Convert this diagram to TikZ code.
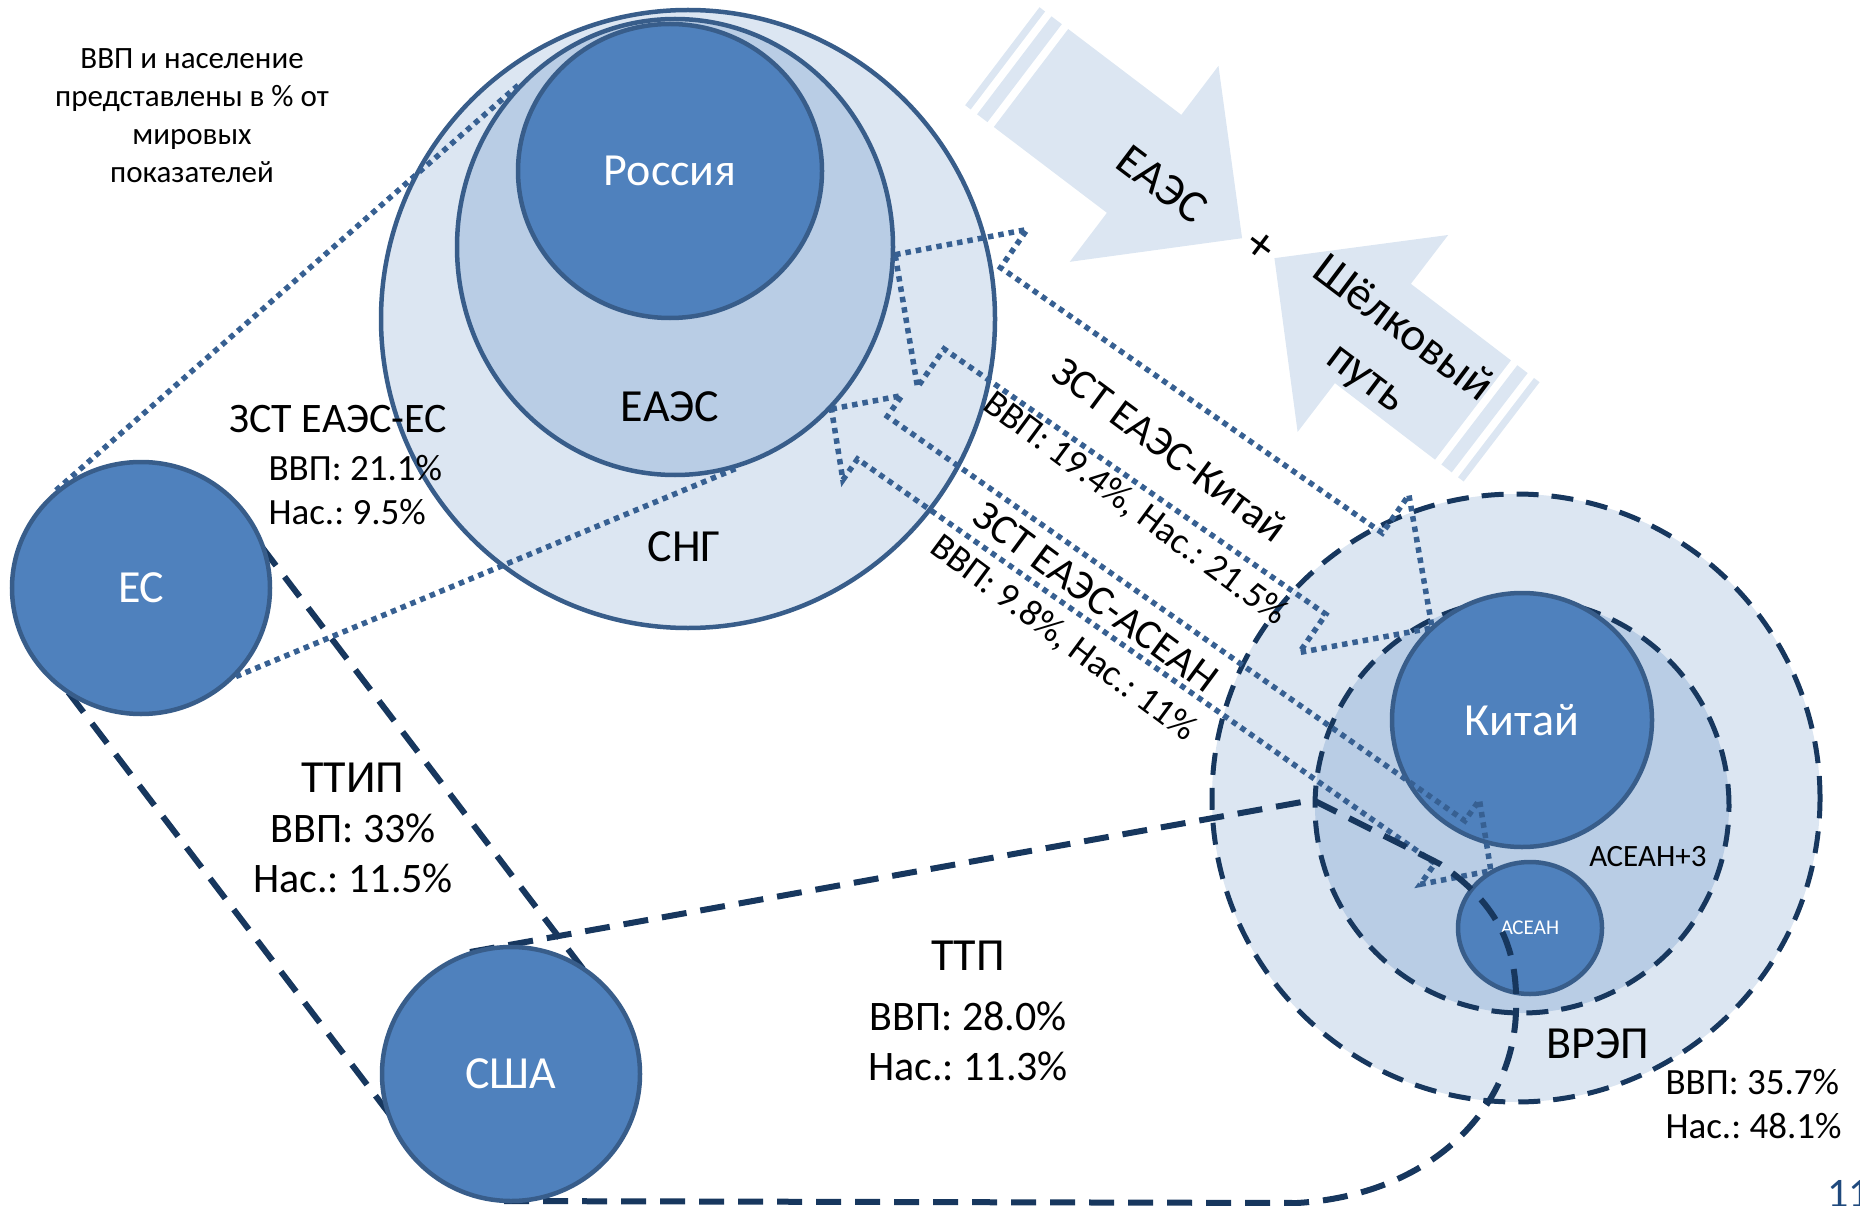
\documentclass[tikz,border=0pt]{standalone}
\usepackage{fontspec}
\setmainfont{Carlito}
\frenchspacing
\usetikzlibrary{shapes.geometric, calc}

\definecolor{darkblue}{HTML}{4F81BD}
\definecolor{edgeblue}{HTML}{385D8A}
\definecolor{midblue}{HTML}{B9CDE5}
\definecolor{paleblue}{HTML}{DCE6F2}
\definecolor{navy}{HTML}{17375E}
\definecolor{dotblue}{HTML}{376092}
\definecolor{pageblue}{HTML}{1F497D}

\newcommand\fbig{\fontsize{46}{55}\selectfont}
\newcommand\fmid{\fontsize{42}{50}\selectfont}
\newcommand\fzst{\fontsize{42}{50}\selectfont}
\newcommand\fstat{\fontsize{37}{44}\selectfont}
\newcommand\fnote{\fontsize{31}{38}\selectfont}
\newcommand\fsmall{\fontsize{21}{25}\selectfont}

\tikzset{
country/.style={ellipse, draw=edgeblue, fill=darkblue, line width=4.5pt, text=white, inner sep=0pt, font=\fbig}, % filled member states
union/.style={ellipse, draw=edgeblue, line width=4.5pt, inner sep=0pt}, % solid unions
bloc/.style={ellipse, draw=navy, line width=5pt, dash pattern=on 22pt off 13pt, inner sep=0pt}, % dashed blocs
fta/.style={draw=dotblue, line width=5.5pt, dash pattern=on 5.5pt off 5pt}, % free trade zones
pact/.style={draw=navy, line width=6pt, dash pattern=on 25pt off 14pt}, % partnerships
road/.style={fill=paleblue, draw=none},
}

\begin{document}
\begin{tikzpicture}[x=1pt, y=-1pt]
\useasboundingbox (0,0) rectangle (1860,1206);
\coordinate (ecc) at (141,588);
\coordinate (usac) at (511,1074);

% big arrows
\begin{scope}[shift={(1031,78)}, rotate=-37.2]
    \fill[road] (-36,-61.5) rectangle (-29,61.5);
    \fill[road] (-21,-61.5) rectangle (-8,61.5);
    \fill[road] (0,-61.5) -- (142,-61.5) -- (142,-123) -- (265,0) -- (142,123) -- (142,61.5) -- (0,61.5) -- cycle;
\end{scope}
\begin{scope}[shift={(1473,410)}, rotate=-217.4]
    \fill[road] (-36,-62.5) rectangle (-29,62.5);
    \fill[road] (-21,-62.5) rectangle (-8,62.5);
    \fill[road] (0,-62.5) -- (126,-62.5) -- (126,-124) -- (250,0) -- (126,124) -- (126,62.5) -- (0,62.5) -- cycle;
\end{scope}

% unions
\node[union, fill=paleblue, minimum width=614, minimum height=618] (cng) at (688,319) {};
\node[union, fill=midblue, minimum width=436, minimum height=456] (eaes) at (675,247) {};
\node[country, minimum width=304, minimum height=294] (rus) at (670,171) {Россия};

\node[bloc, fill=paleblue, minimum size=608] (vrep) at (1516,798) {};
\node[bloc, fill=midblue, minimum size=414] (apt) at (1522,806) {};
\node[country, minimum width=260, minimum height=254] (china) at (1522,720) {Китай};

% free trade zones
\begin{scope}[shift={(eaes.-2)}, rotate=-34.8]
    \draw[fta] (0,0) -- (94,-96) -- (94,-49.5) -- (559,-49.5) -- (559,-96) -- (654,0) -- (559,96) -- (559,49.5) -- (94,49.5) -- (94,96) -- cycle;
\end{scope}
\begin{scope}[shift={(eaes.-46)}, rotate=-35]
    \draw[fta] (0,0) -- (50,-51.5) -- (50,-26) -- (755,-26) -- (755,-51.5) -- (805,0) -- (755,51.5) -- (755,26) -- (50,26) -- (50,51.5) -- cycle;
\end{scope}

\node[country, minimum width=144, minimum height=132, font=\fsmall] (asean) at (1530,928) {АСЕАН};

% TTP and TTIP
\draw[pact] ($(usac)+(-41,-122)$) -- (1313,800) -- (1440,864)
    .. controls (1500,905) and (1518,950) .. (1516,1010)
    .. controls (1514,1110) and (1430,1195) .. (1297,1203) -- ($(usac)+(-20,127)$);
\draw[pact] ($(ecc)!121pt!90:(usac)$) -- ($(usac)!121pt!-90:(ecc)$);
\draw[pact] ($(ecc)!121pt!-90:(usac)$) -- ($(usac)!121pt!90:(ecc)$);

\node[country, minimum width=258, minimum height=252] (ec) at (ecc) {ЕС};
\node[country, minimum width=258, minimum height=254] (usa) at (usac) {США};

\draw[fta] (ec.131) -- (eaes.134);
\draw[fta] (ec.-43) -- (eaes.-74);

% labels
\node[font=\fbig] (eaeslabel) at (670,407) {ЕАЭС};
\node[font=\fbig] (cnglabel) at (684,547) {СНГ};
\node[font=\fbig] (vreplabel) at (1598,1044) {ВРЭП};
\node[font=\fnote] (aptlabel) at (1648,857) {АСЕАН+3};
\node[font=\fstat, anchor=west, align=left] (vrepdata) at (1662,1104) {ВВП: 35.7\%\\Нас.: 48.1\%};

\node[font=\fnote, align=center] (note) at (192,116) {ВВП и население\\представлены в \% от\\мировых\\показателей};

\node[font=\fzst] (zstec) at (338,419) {ЗСТ ЕАЭС-ЕС};
\node[font=\fstat, anchor=west, align=left] (zstecdata) at (265,490) {ВВП: 21.1\%\\Нас.: 9.5\%};

\node[font=\fbig] (ttip) at (353,778) {ТТИП};
\node[font=\fmid, align=center] (ttipdata) at (353,853) {ВВП: 33\%\\Нас.: 11.5\%};
\node[font=\fbig] (ttp) at (968,956) {ТТП};
\node[font=\fmid, align=center] (ttpdata) at (968,1041) {ВВП: 28.0\%\\Нас.: 11.3\%};

\node[font=\fzst, rotate=-36.5] (zstcn) at (1170,449) {ЗСТ ЕАЭС-Китай};
\node[font=\fstat, rotate=-36.5] (zstcndata) at (1135,509) {ВВП: 19.4\%, Нас.: 21.5\%};
\node[font=\fzst, rotate=-36.5] (zstas) at (1096,597) {ЗСТ ЕАЭС-АСЕАН};
\node[font=\fstat, rotate=-36.5] (zstasdata) at (1063,639) {ВВП: 9.8\%, Нас.: 11\%};

\node[font=\fbig, rotate=-37] (eaesroad) at (1162,184) {ЕАЭС};
\node[font=\fontsize{47}{61}\selectfont, rotate=-37, align=center] (silkroad) at (1384,354) {Шёлковый\\путь};
\node[font=\fontsize{50}{60}\selectfont, rotate=-37] (plus) at (1260,247) {+};

\node[font=\fzst, text=pageblue, anchor=north west, inner sep=0pt] (page) at (1827,1180) {11};
\end{tikzpicture}
\end{document}
